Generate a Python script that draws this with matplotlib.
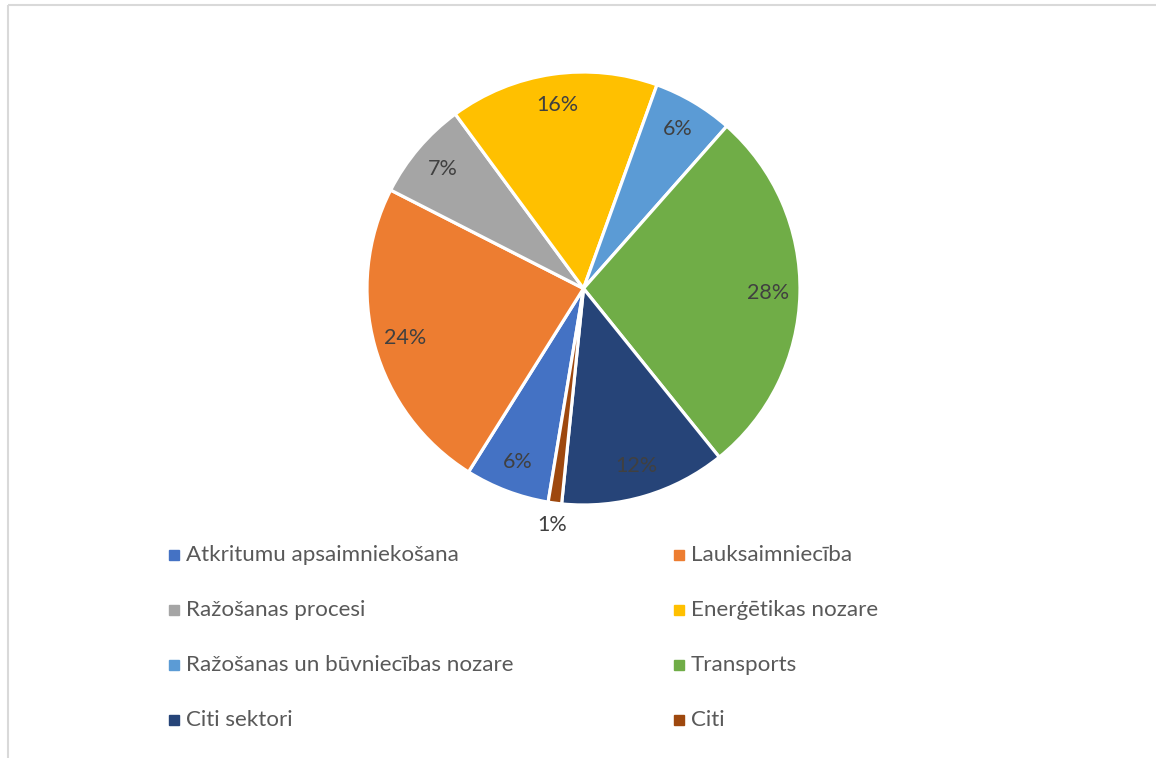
import matplotlib
matplotlib.use("Agg")
import matplotlib.pyplot as plt
import numpy as np

# Sector shares of emissions (%)
sectors = [
    "Atkritumu apsaimniekošana",
    "Lauksaimniecība",
    "Ražošanas procesi",
    "Enerģētikas nozare",
    "Ražošanas un būvniecības nozare",
    "Transports",
    "Citi sektori",
    "Citi",
]
shares = [6.3, 23.6, 7.4, 15.6, 6.0, 27.7, 12.4, 1.0]
colors = ["#4472C4", "#ED7D31", "#A5A5A5", "#FFC000",
          "#5B9BD5", "#70AD47", "#264478", "#9E480E"]

W, H = 1156, 758
fig = plt.figure(figsize=(W / 100, H / 100), dpi=100)
ax = fig.add_axes([0, 0, 1, 1])

font = "Lato"

cx, cy, r = 583.5, H - 288.5, 216.5
wedges, _, autotexts = ax.pie(
    shares, colors=colors, startangle=-99.4, counterclock=False,
    center=(cx, cy), radius=r, autopct="%.0f%%", pctdistance=0.855,
    wedgeprops=dict(edgecolor="white", linewidth=2.3),
    textprops=dict(color="#404040", fontsize=15.5, family=font),
    frame=True,
)
ax.set_xlim(0, W)
ax.set_ylim(0, H)
ax.set_aspect("equal")
ax.axis("off")

# the smallest slice gets its label just outside the rim
w = wedges[-1]
mid = np.deg2rad((w.theta1 + w.theta2) / 2)
autotexts[-1].set_position((cx + 1.1 * r * np.cos(mid), cy + 1.1 * r * np.sin(mid)))

# legend in two columns
col_x = [174, 679]
row_y = [555, 610, 665, 720]
for i, (name, c) in enumerate(zip(sectors, colors)):
    x = col_x[i % 2]
    y = H - row_y[i // 2]
    ax.plot([x], [y], marker="s", markersize=7.5, color=c, linestyle="none")
    ax.text(x + 12, y, name, va="center", ha="left", fontsize=16.1,
            color="#595959", family=font)

# chart area border (top and left edges)
ax.plot([8, W], [H - 5, H - 5], color="#D9D9D9", linewidth=1.5, solid_capstyle="butt")
ax.plot([8, 8], [H - 5, 0], color="#D9D9D9", linewidth=1.5, solid_capstyle="butt")

fig.savefig("out.png", dpi=100, facecolor="white")
